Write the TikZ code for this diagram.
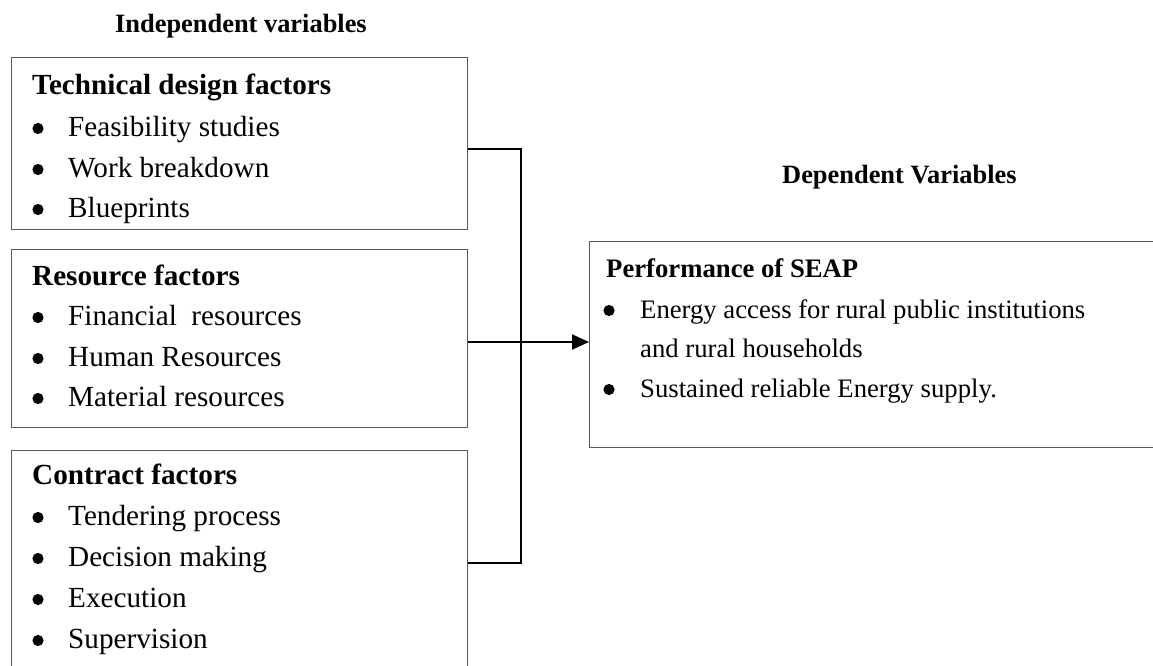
\documentclass[tikz,border=0pt]{standalone}
\usepackage{fontspec}
\setmainfont{Liberation Serif}
\usetikzlibrary{arrows.meta}
\tikzset{
  box/.style={draw=black!65, line width=1.3pt, rectangle, inner sep=0pt, anchor=north west},
  lt/.style={anchor=base west, inner sep=0pt, font=\fontsize{29.2}{35}\selectfont},
  lth/.style={anchor=base west, inner sep=0pt, font=\fontsize{29.2}{35}\selectfont\bfseries},
  rt/.style={anchor=base west, inner sep=0pt, font=\fontsize{26.7}{32}\selectfont},
  rth/.style={anchor=base west, inner sep=0pt, font=\fontsize{26.7}{32}\selectfont\bfseries},
  head/.style={anchor=base west, inner sep=0pt, font=\fontsize{26.4}{32}\selectfont\bfseries},
  conn/.style={line width=2pt, black}
}
\newcommand\bulat[2]{\fill ([xshift=#2,yshift=7.5pt]#1.base west) circle (5.6pt);}
\begin{document}
\begin{tikzpicture}[x=1pt,y=-1pt]
\useasboundingbox (0,0) rectangle (1153,666);
% headings
\node[head] (hind) at (115,33) {Independent variables};
\node[head] (hdep) at (782,183) {Dependent Variables};
% boxes
\node[box, minimum width=456pt, minimum height=172pt] (b1) at (11,57) {};
\node[box, minimum width=456pt, minimum height=178pt] (b2) at (11,249) {};
\node[box, minimum width=456pt, minimum height=240pt] (b3) at (11,450) {};
\node[box, minimum width=600pt, minimum height=206pt] (r) at (589,241) {};
% box 1 text
\node[lth] (t1) at (32,95) {Technical design factors};
\node[lt] (t1a) at (68,136) {Feasibility studies};
\node[lt] (t1b) at (68,177) {Work breakdown};
\node[lt] (t1c) at (68,217) {Blueprints};
% box 2 text
\node[lth] (t2) at (32,285) {Resource factors};
\node[lt] (t2a) at (68,325) {Financial\ \ resources};
\node[lt] (t2b) at (68,366) {Human Resources};
\node[lt] (t2c) at (68,406) {Material resources};
% box 3 text
\node[lth] (t3) at (32,484) {Contract factors};
\node[lt] (t3a) at (68,525) {Tendering process};
\node[lt] (t3b) at (68,566) {Decision making};
\node[lt] (t3c) at (68,607) {Execution};
\node[lt] (t3d) at (68,648) {Supervision};
% right box text
\node[rth] (rt0) at (606,277) {Performance of SEAP};
\node[rt] (rta) at (640,318) {Energy access for rural public institutions};
\node[rt] (rtb) at (640,357) {and rural households};
\node[rt] (rtc) at (640,397) {Sustained reliable Energy supply.};
% bullets
\foreach \n in {t1a,t1b,t1c,t2a,t2b,t2c,t3a,t3b,t3c,t3d} {\bulat{\n}{-30pt}}
\foreach \n in {rta,rtc} {\bulat{\n}{-31pt}}
% connectors
\coordinate (j1) at (521,149);
\coordinate (j3) at (521,563);
\coordinate (m) at (521,342);
\draw[conn] (b1.east |- j1) -- (j1) -- (j3) -- (b3.east |- j3);
\draw[conn, -{Triangle[length=17pt,width=15pt]}] (b2.east |- m) -- (r.west |- m);
\end{tikzpicture}
\end{document}
